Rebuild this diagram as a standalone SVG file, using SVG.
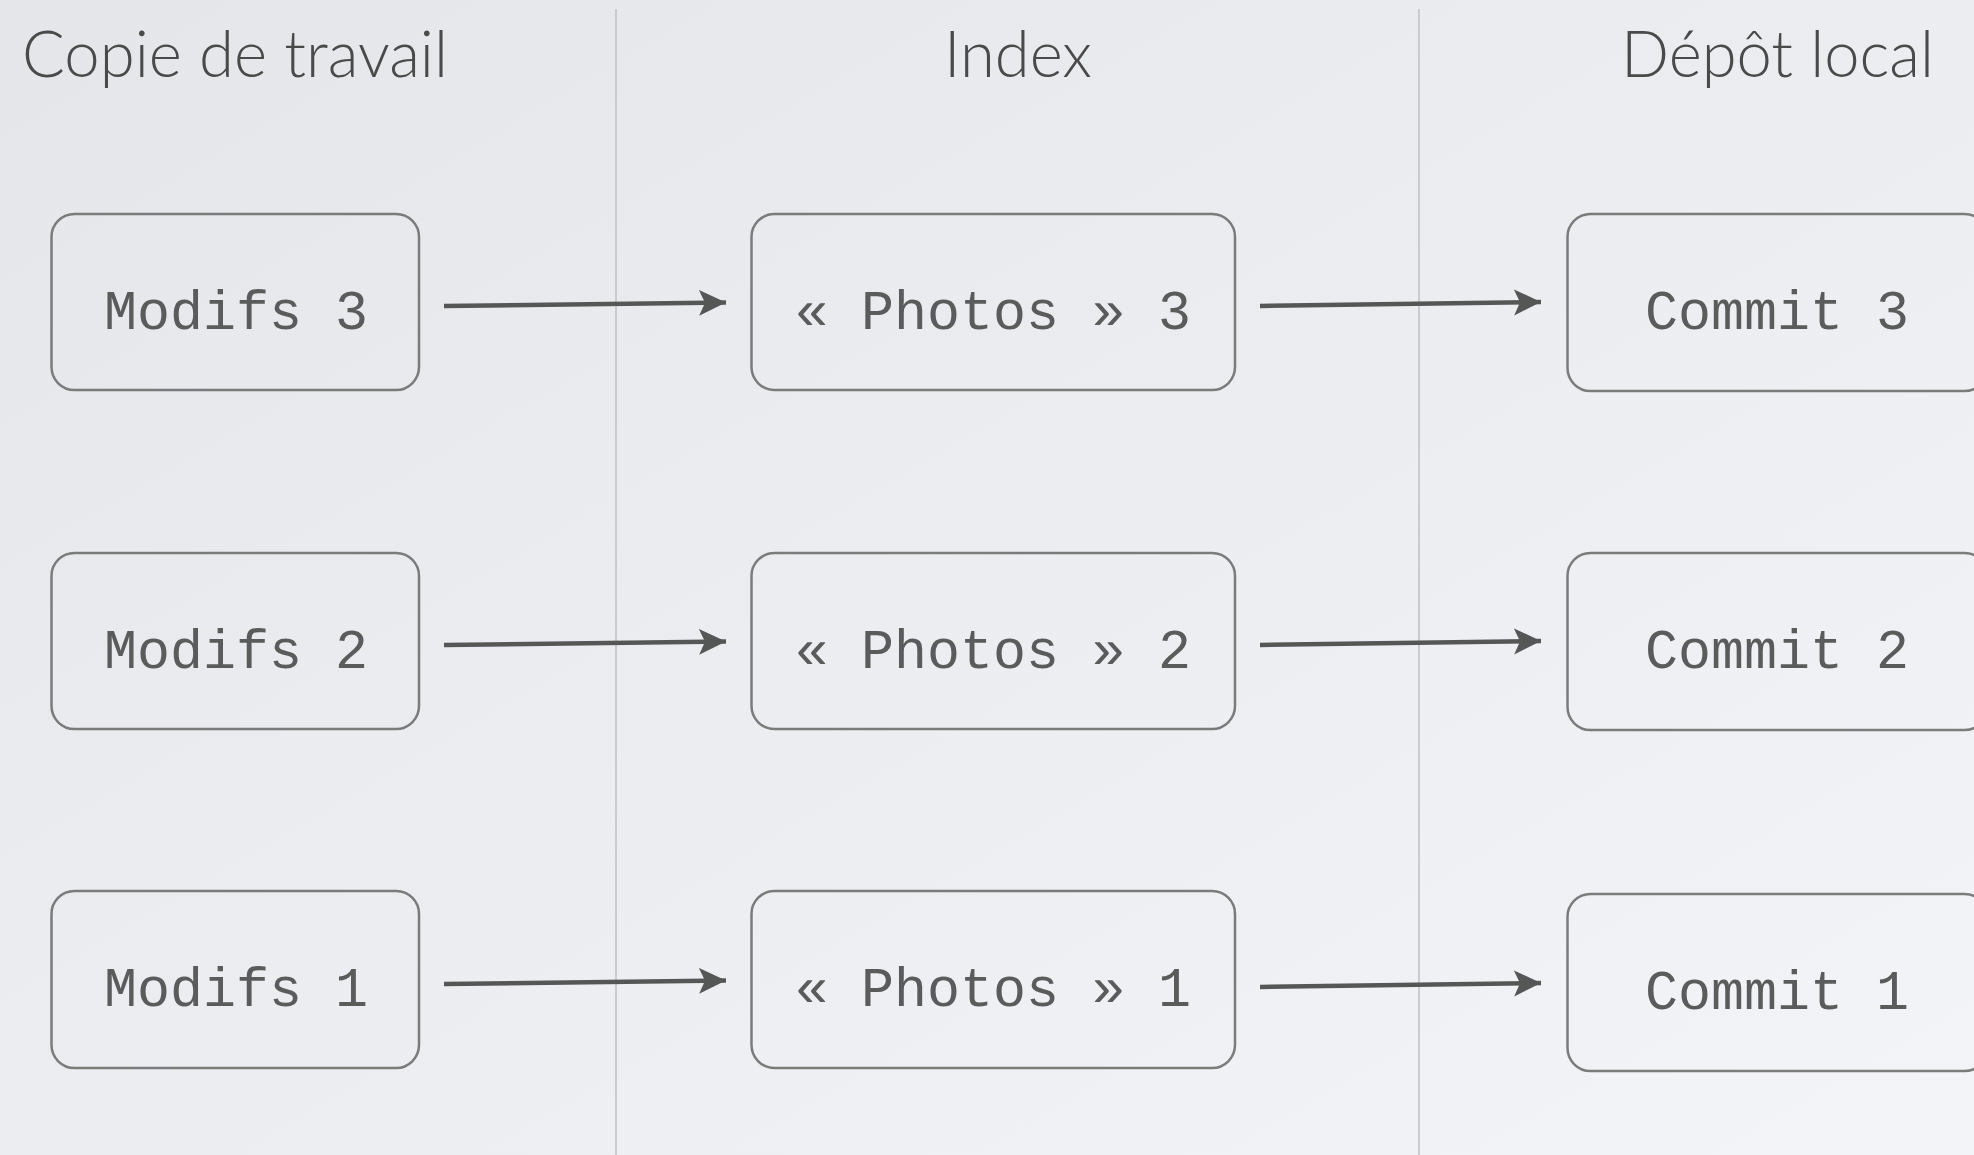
<svg xmlns="http://www.w3.org/2000/svg" width="1974" height="1155" viewBox="0 0 1974 1155">
  <defs>
    <linearGradient id="bg" x1="0" y1="0" x2="1" y2="1">
      <stop offset="0" stop-color="#e4e6e9"/>
      <stop offset="1" stop-color="#f3f4f7"/>
    </linearGradient>
    <marker id="arrow" markerWidth="28" markerHeight="28" viewBox="0 0 28 28" refX="27" refY="14" orient="auto" markerUnits="userSpaceOnUse">
      <path d="M0,1 L27,14 L0,27 L6,14 Z" fill="#555757"/>
    </marker>
  </defs>
  <style>
    .title { font-family: "Lato", "Liberation Sans", sans-serif; font-weight: 300; font-size: 66px; fill: #4a4a4a; }
    .sep { stroke: #c9cbce; stroke-width: 2; }
    .box { fill: none; stroke: #7a7c7c; stroke-width: 2.5; }
    .label { font-family: "Liberation Mono", "DejaVu Sans Mono", monospace; font-size: 55px; fill: #5a5c5c; text-anchor: middle; }
    .conn { stroke: #555757; stroke-width: 4.5; fill: none; marker-end: url(#arrow); }
  </style>

  <rect x="0" y="0" width="1974" height="1155" fill="url(#bg)"/>

  <!-- column separators -->
  <line class="sep" x1="616" y1="9" x2="616" y2="1155"/>
  <line class="sep" x1="1419" y1="9" x2="1419" y2="1155"/>

  <!-- column headings -->
  <text class="title" x="22" y="77" textLength="426" lengthAdjust="spacingAndGlyphs">Copie de travail</text>
  <text class="title" x="944" y="77" textLength="148" lengthAdjust="spacingAndGlyphs">Index</text>
  <text class="title" x="1621" y="77" textLength="313" lengthAdjust="spacingAndGlyphs">Dépôt local</text>

  <!-- working copy -->
  <g id="modifs3"><rect class="box" x="51.5" y="214" width="367.5" height="176" rx="23"/><text class="label" x="236" y="329">Modifs 3</text></g>
  <g id="modifs2"><rect class="box" x="51.5" y="553" width="367.5" height="176" rx="23"/><text class="label" x="236" y="668">Modifs 2</text></g>
  <g id="modifs1"><rect class="box" x="51.5" y="891" width="367.5" height="177" rx="23"/><text class="label" x="236" y="1006">Modifs 1</text></g>

  <!-- index -->
  <g id="photos3"><rect class="box" x="751.5" y="214" width="483.5" height="176" rx="23"/><text class="label" x="993" y="329">« Photos » 3</text></g>
  <g id="photos2"><rect class="box" x="751.5" y="553" width="483.5" height="176" rx="23"/><text class="label" x="993" y="668">« Photos » 2</text></g>
  <g id="photos1"><rect class="box" x="751.5" y="891" width="483.5" height="177" rx="23"/><text class="label" x="993" y="1006">« Photos » 1</text></g>

  <!-- local repository -->
  <g id="commit3"><rect class="box" x="1567.5" y="214" width="420" height="177" rx="23"/><text class="label" x="1777" y="329">Commit 3</text></g>
  <g id="commit2"><rect class="box" x="1567.5" y="553" width="420" height="177" rx="23"/><text class="label" x="1777" y="668">Commit 2</text></g>
  <g id="commit1"><rect class="box" x="1567.5" y="894" width="420" height="177" rx="23"/><text class="label" x="1777" y="1009">Commit 1</text></g>

  <!-- connectors -->
  <g id="connectors">
    <line class="conn" x1="444" y1="306" x2="726" y2="302.5"/>
    <line class="conn" x1="444" y1="645" x2="726" y2="641.5"/>
    <line class="conn" x1="444" y1="984" x2="726" y2="980.5"/>
    <line class="conn" x1="1260" y1="306" x2="1541" y2="302"/>
    <line class="conn" x1="1260" y1="645" x2="1541" y2="641"/>
    <line class="conn" x1="1260" y1="987" x2="1541" y2="983"/>
  </g>
</svg>
